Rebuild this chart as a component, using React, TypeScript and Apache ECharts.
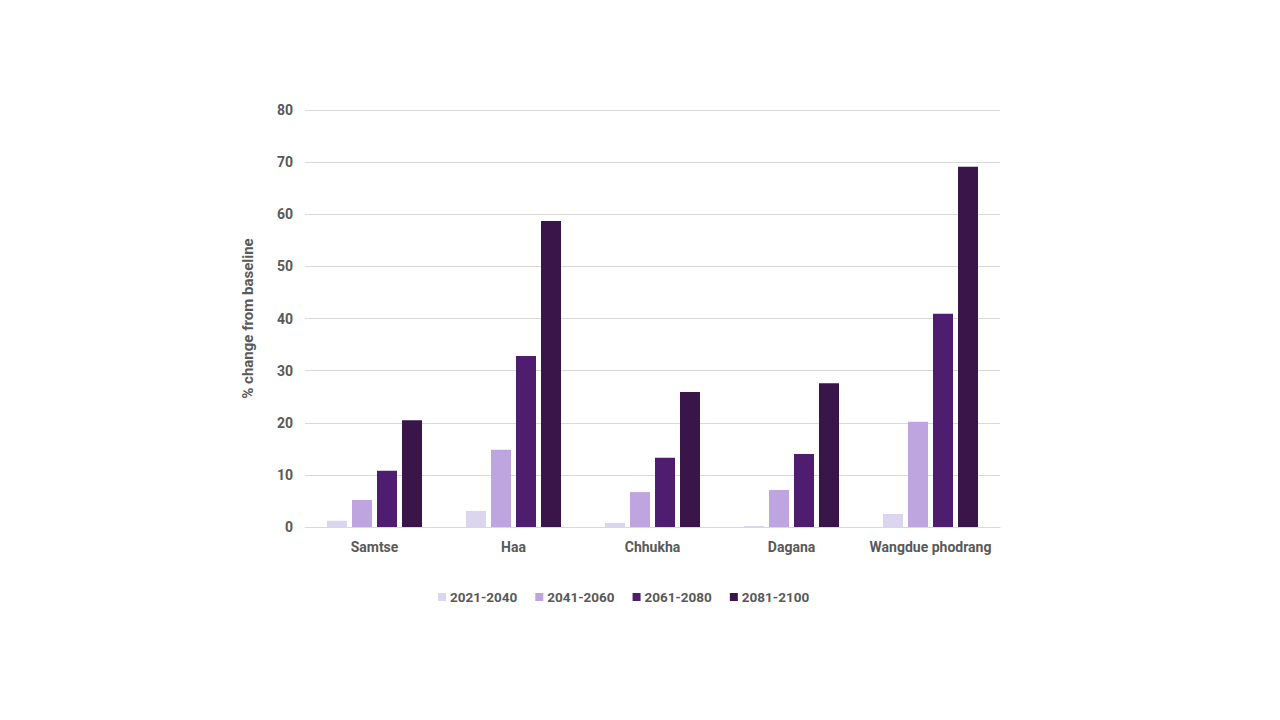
import React, { useEffect, useRef } from "react";
import * as echarts from "echarts";

const categories = ["Samtse", "Haa", "Chhukha", "Dagana", "Wangdue phodrang"];
const seriesNames = ["2021-2040", "2041-2060", "2061-2080", "2081-2100"];
const s2021 = [1.2, 3.1, 0.8, 0.2, 2.5];
const s2041 = [5.2, 14.8, 6.7, 7.1, 20.2];
const s2061 = [10.8, 32.8, 13.3, 14.0, 40.9];
const s2081 = [20.5, 58.7, 25.9, 27.6, 69.1];
const colors = ["#dcd5ee", "#bfa5df", "#4f1d6f", "#3a1549"];

export default function App() {
  const ref = useRef<HTMLDivElement>(null);
  useEffect(() => {
    if (!ref.current) return;
    const chart = echarts.init(ref.current, null, { renderer: "svg" });
    const font = "Roboto, 'Liberation Sans', sans-serif";
    const data = [s2021, s2041, s2061, s2081];
    chart.setOption({
      animation: false,
      textStyle: { fontFamily: font },
      grid: { left: 297, right: 272, top: 102, bottom: 185 },
      legend: {
        bottom: 103,
        left: 425,
        itemWidth: 8,
        itemHeight: 8,
        itemGap: 18,
        icon: "rect",
        textStyle: { color: "#595959", fontSize: 13.5, fontWeight: "bold", fontFamily: font, padding: [0, 0, 0, -1] },
        data: seriesNames,
      },
      xAxis: {
        type: "category",
        data: categories,
        axisLine: { lineStyle: { color: "#d9d9d9" } },
        axisTick: { show: false },
        axisLabel: { color: "#595959", fontSize: 14, fontWeight: "bold", margin: 13, interval: 0 },
      },
      yAxis: {
        type: "value",
        min: 0,
        max: 80,
        interval: 10,
        name: "% change from baseline",
        nameLocation: "middle",
        nameGap: 50,
        nameTextStyle: { color: "#595959", fontSize: 15, fontWeight: "bold" },
        axisLabel: { color: "#595959", fontSize: 14, fontWeight: "bold", margin: 12 },
        splitLine: { lineStyle: { color: "#d9d9d9" } },
        axisLine: { show: false },
        axisTick: { show: false },
      },
      series: seriesNames.map((n, i) => ({
        name: n,
        type: "bar",
        data: data[i],
        barWidth: 20,
        barGap: "25%",
        itemStyle: { color: colors[i] },
      })),
    });
    return () => chart.dispose();
  }, []);
  return <div ref={ref} style={{ width: 1264, height: 704 }} />;
}
